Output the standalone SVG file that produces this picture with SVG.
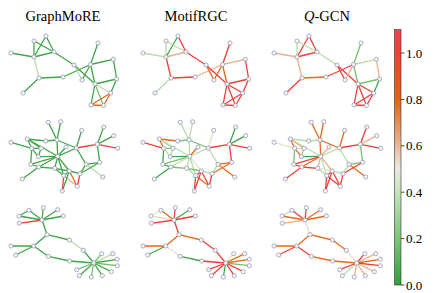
<svg xmlns="http://www.w3.org/2000/svg" xmlns:xlink="http://www.w3.org/1999/xlink" width="436" height="293" viewBox="0 0 436 293">
<style>
.t{font-family:"Liberation Serif","DejaVu Serif",serif;font-size:14.5px;fill:#000;text-anchor:middle}
.tk{font-family:"Liberation Serif","DejaVu Serif",serif;font-size:13px;fill:#000}
.e{fill:none;stroke-width:1.3;stroke-linecap:round}
.nd circle{fill:#f5f5fa;stroke:#8c90aa;stroke-width:.7}
.g{stroke:#3fa54a}.g2{stroke:#78c070}.lg{stroke:#b7dcaa}.bg{stroke:#e4dfcf}.pc{stroke:#eab08a}.or{stroke:#e4691d}.rd{stroke:#ef3e3a}
</style>
<defs>
<linearGradient id="cb" x1="0" y1="0" x2="0" y2="1">
<stop offset="0" stop-color="#f0424c"/><stop offset=".091" stop-color="#ee4038"/><stop offset=".273" stop-color="#e0640e"/><stop offset=".455" stop-color="#e8b89a"/><stop offset=".545" stop-color="#ebe8e2"/><stop offset=".636" stop-color="#c5e3bc"/><stop offset=".818" stop-color="#7dc47a"/><stop offset="1" stop-color="#2e9e3e"/>
</linearGradient>
<path id="a1" d="M46 36L34 57"/><path id="a2" d="M46 36L54 52"/><path id="a3" d="M34 41L34 57"/><path id="a4" d="M34 41L54 52"/><path id="a5" d="M11 53L34 57"/><path id="a6" d="M34 57L54 52"/><path id="a7" d="M34 57L39 78"/><path id="a8" d="M54 52L74 65"/><path id="a9" d="M39 78L63 77"/><path id="a10" d="M39 78L23 93"/><path id="a11" d="M63 77L90.5 64.5"/><path id="a12" d="M98 43L90.5 64.5"/><path id="a13" d="M74 65L95 84"/><path id="a14" d="M74 65L82 80"/><path id="a15" d="M90.5 64.5L82 80"/><path id="a16" d="M90.5 64.5L113.3 59.3"/><path id="a17" d="M90.5 64.5L95 84"/><path id="a18" d="M113.3 59.3L116.7 79"/><path id="a19" d="M95 84L116.7 79"/><path id="a20" d="M116.7 79L110.7 93"/><path id="a21" d="M95 84L110.7 93"/><path id="a22" d="M95 84L91 105"/><path id="a23" d="M95 84L103.5 105.5"/><path id="a24" d="M110.7 93L91 105"/><path id="a25" d="M110.7 93L103.5 105.5"/><path id="a26" d="M91 105L103.5 105.5"/>
<g id="N1" class="nd"><circle cx="46" cy="36" r="2.1"/><circle cx="34" cy="41" r="2.1"/><circle cx="11" cy="53" r="2.1"/><circle cx="34" cy="57" r="2.1"/><circle cx="54" cy="52" r="2.1"/><circle cx="98" cy="43" r="2.1"/><circle cx="74" cy="65" r="2.1"/><circle cx="90.5" cy="64.5" r="2.1"/><circle cx="113.3" cy="59.3" r="2.1"/><circle cx="39" cy="78" r="2.1"/><circle cx="63" cy="77" r="2.1"/><circle cx="82" cy="80" r="2.1"/><circle cx="95" cy="84" r="2.1"/><circle cx="116.7" cy="79" r="2.1"/><circle cx="23" cy="93" r="2.1"/><circle cx="110.7" cy="93" r="2.1"/><circle cx="91" cy="105" r="2.1"/><circle cx="103.5" cy="105.5" r="2.1"/></g>
<path id="b1" d="M48.3 122.3L57 140"/><path id="b2" d="M60.7 121.7L57 140"/><path id="b3" d="M11 142.3L31.7 148.3"/><path id="b4" d="M27.3 139L45.7 141"/><path id="b5" d="M45.7 141L57 140"/><path id="b6" d="M27.3 139L31.7 148.3"/><path id="b7" d="M27.3 139L57.7 156.3"/><path id="b8" d="M27.3 139L41 148.3"/><path id="b9" d="M31.7 148.3L41 148.3"/><path id="b10" d="M31.7 148.3L30.7 164.3"/><path id="b11" d="M41 148.3L38.3 156.7"/><path id="b12" d="M31.7 148.3L38.3 156.7"/><path id="b13" d="M38.3 156.7L57.7 156.3"/><path id="b14" d="M57 140L57.7 156.3"/><path id="b15" d="M57 140L76.3 148"/><path id="b16" d="M66 147L57.7 156.3"/><path id="b17" d="M76.3 148L57.7 156.3"/><path id="b18" d="M81.7 130.3L76.3 148"/><path id="b19" d="M97.3 144.3L76.3 148"/><path id="b20" d="M97.3 144.3L103.7 127"/><path id="b21" d="M97.3 144.3L113.7 135.7"/><path id="b22" d="M97.3 144.3L117.7 148.3"/><path id="b23" d="M97.3 144.3L99.7 162.3"/><path id="b24" d="M76.3 148L86 164.3"/><path id="b25" d="M86 164.3L99.7 162.3"/><path id="b26" d="M86 164.3L102.7 177"/><path id="b27" d="M99.7 162.3L80 173.7"/><path id="b28" d="M86 164.3L80 173.7"/><path id="b29" d="M57.7 156.3L30.7 164.3"/><path id="b30" d="M57.7 156.3L38.7 167"/><path id="b31" d="M57.7 156.3L54.7 168.3"/><path id="b32" d="M57.7 156.3L69.3 171"/><path id="b33" d="M57.7 156.3L63.7 175.7"/><path id="b34" d="M30.7 164.3L38.7 167"/><path id="b35" d="M38.7 167L54.7 168.3"/><path id="b36" d="M38.7 167L22.3 179"/><path id="b37" d="M54.7 168.3L69.3 171"/><path id="b38" d="M69.3 171L80 173.7"/><path id="b39" d="M69.3 171L63.7 175.7"/><path id="b40" d="M69.3 171L77.3 186.3"/><path id="b41" d="M80 173.7L77.3 186.3"/><path id="b42" d="M63.7 175.7L62.3 191"/><path id="b43" d="M63.7 175.7L77.3 186.3"/><path id="b44" d="M69.3 171L62.3 191"/><path id="b45" d="M54.7 168.3L63.7 175.7"/>
<g id="N2" class="nd"><circle cx="48.3" cy="122.3" r="2.1"/><circle cx="60.7" cy="121.7" r="2.1"/><circle cx="11" cy="142.3" r="2.1"/><circle cx="27.3" cy="139" r="2.1"/><circle cx="45.7" cy="141" r="2.1"/><circle cx="57" cy="140" r="2.1"/><circle cx="81.7" cy="130.3" r="2.1"/><circle cx="103.7" cy="127" r="2.1"/><circle cx="113.7" cy="135.7" r="2.1"/><circle cx="117.7" cy="148.3" r="2.1"/><circle cx="97.3" cy="144.3" r="2.1"/><circle cx="76.3" cy="148" r="2.1"/><circle cx="66" cy="147" r="2.1"/><circle cx="31.7" cy="148.3" r="2.1"/><circle cx="41" cy="148.3" r="2.1"/><circle cx="38.3" cy="156.7" r="2.1"/><circle cx="57.7" cy="156.3" r="2.1"/><circle cx="30.7" cy="164.3" r="2.1"/><circle cx="38.7" cy="167" r="2.1"/><circle cx="54.7" cy="168.3" r="2.1"/><circle cx="86" cy="164.3" r="2.1"/><circle cx="99.7" cy="162.3" r="2.1"/><circle cx="69.3" cy="171" r="2.1"/><circle cx="80" cy="173.7" r="2.1"/><circle cx="63.7" cy="175.7" r="2.1"/><circle cx="22.3" cy="179" r="2.1"/><circle cx="102.7" cy="177" r="2.1"/><circle cx="62.3" cy="191" r="2.1"/><circle cx="77.3" cy="186.3" r="2.1"/></g>
<path id="c1" d="M29 210.3L19 216"/><path id="c2" d="M19 216L42 220"/><path id="c3" d="M29 210.3L42 220"/><path id="c4" d="M43.3 207.7L42 220"/><path id="c5" d="M57.7 209.7L42 220"/><path id="c6" d="M63.3 216L42 220"/><path id="c7" d="M42 220L19.3 223.3"/><path id="c8" d="M42 220L47 234.7"/><path id="c9" d="M47 234.7L69.3 240"/><path id="c10" d="M69.3 240L83.3 250.3"/><path id="c11" d="M83.3 250.3L93.7 263"/><path id="c12" d="M47 234.7L33.7 246"/><path id="c13" d="M11 246L33.7 246"/><path id="c14" d="M33.7 246L15.7 255"/><path id="c15" d="M33.7 246L48.3 256.3"/><path id="c16" d="M48.3 256.3L69.7 261"/><path id="c17" d="M69.7 261L93.7 263"/><path id="c18" d="M93.7 263L101.7 253.7"/><path id="c19" d="M93.7 263L112.7 253.7"/><path id="c20" d="M93.7 263L117.3 259.3"/><path id="c21" d="M93.7 263L117.3 265.7"/><path id="c22" d="M93.7 263L111.3 271.7"/><path id="c23" d="M93.7 263L102.3 275.7"/><path id="c24" d="M93.7 263L91.3 277"/><path id="c25" d="M93.7 263L79.3 275.7"/><path id="c26" d="M93.7 263L76.7 269.7"/>
<g id="N3" class="nd"><circle cx="29" cy="210.3" r="2.1"/><circle cx="43.3" cy="207.7" r="2.1"/><circle cx="57.7" cy="209.7" r="2.1"/><circle cx="19" cy="216" r="2.1"/><circle cx="63.3" cy="216" r="2.1"/><circle cx="42" cy="220" r="2.1"/><circle cx="19.3" cy="223.3" r="2.1"/><circle cx="47" cy="234.7" r="2.1"/><circle cx="69.3" cy="240" r="2.1"/><circle cx="11" cy="246" r="2.1"/><circle cx="33.7" cy="246" r="2.1"/><circle cx="15.7" cy="255" r="2.1"/><circle cx="83.3" cy="250.3" r="2.1"/><circle cx="48.3" cy="256.3" r="2.1"/><circle cx="69.7" cy="261" r="2.1"/><circle cx="93.7" cy="263" r="2.1"/><circle cx="101.7" cy="253.7" r="2.1"/><circle cx="112.7" cy="253.7" r="2.1"/><circle cx="117.3" cy="259.3" r="2.1"/><circle cx="117.3" cy="265.7" r="2.1"/><circle cx="111.3" cy="271.7" r="2.1"/><circle cx="102.3" cy="275.7" r="2.1"/><circle cx="91.3" cy="277" r="2.1"/><circle cx="79.3" cy="275.7" r="2.1"/><circle cx="76.7" cy="269.7" r="2.1"/></g>
</defs>
<rect width="436" height="293" fill="#fff"/>
<g id="titles">
<text class="t" x="63" y="21">GraphMoRE</text>
<text class="t" x="196" y="21">MotifRGC</text>
<text class="t" x="327" y="21"><tspan font-style="italic">Q</tspan>-GCN</text>
</g>
<g id="connectors" class="e">
<g id="e11"><use href="#a1" class="g"/><use href="#a2" class="g"/><use href="#a3" class="g"/><use href="#a4" class="g"/><use href="#a5" class="g"/><use href="#a6" class="g"/><use href="#a7" class="lg"/><use href="#a8" class="g"/><use href="#a9" class="g"/><use href="#a10" class="g"/><use href="#a11" class="g"/><use href="#a12" class="g"/><use href="#a13" class="g"/><use href="#a14" class="lg"/><use href="#a15" class="g"/><use href="#a16" class="g"/><use href="#a17" class="g"/><use href="#a18" class="g"/><use href="#a19" class="g"/><use href="#a20" class="g"/><use href="#a21" class="lg"/><use href="#a22" class="g"/><use href="#a23" class="g2"/><use href="#a24" class="or"/><use href="#a25" class="or"/><use href="#a26" class="or"/></g>
<g id="e12" transform="translate(132 0)"><use href="#a1" class="g"/><use href="#a2" class="rd"/><use href="#a3" class="lg"/><use href="#a4" class="lg"/><use href="#a5" class="lg"/><use href="#a6" class="pc"/><use href="#a7" class="rd"/><use href="#a8" class="rd"/><use href="#a9" class="rd"/><use href="#a10" class="lg"/><use href="#a11" class="pc"/><use href="#a12" class="rd"/><use href="#a13" class="rd"/><use href="#a14" class="or"/><use href="#a15" class="or"/><use href="#a16" class="pc"/><use href="#a17" class="or"/><use href="#a18" class="rd"/><use href="#a19" class="rd"/><use href="#a20" class="rd"/><use href="#a21" class="rd"/><use href="#a22" class="rd"/><use href="#a23" class="rd"/><use href="#a24" class="rd"/><use href="#a25" class="rd"/><use href="#a26" class="rd"/></g>
<g id="e13" transform="translate(263 0)"><use href="#a1" class="rd"/><use href="#a2" class="rd"/><use href="#a3" class="lg"/><use href="#a4" class="lg"/><use href="#a5" class="pc"/><use href="#a6" class="rd"/><use href="#a7" class="pc"/><use href="#a8" class="lg"/><use href="#a9" class="or"/><use href="#a10" class="rd"/><use href="#a11" class="rd"/><use href="#a12" class="g2"/><use href="#a13" class="rd"/><use href="#a14" class="rd"/><use href="#a15" class="pc"/><use href="#a16" class="lg"/><use href="#a17" class="g2"/><use href="#a18" class="pc"/><use href="#a19" class="g2"/><use href="#a20" class="g"/><use href="#a21" class="rd"/><use href="#a22" class="rd"/><use href="#a23" class="rd"/><use href="#a24" class="rd"/><use href="#a25" class="rd"/><use href="#a26" class="rd"/></g>
<g id="e21"><use href="#b1" class="g"/><use href="#b2" class="g"/><use href="#b3" class="g"/><use href="#b4" class="g"/><use href="#b5" class="g"/><use href="#b6" class="g"/><use href="#b7" class="g"/><use href="#b8" class="g"/><use href="#b9" class="g"/><use href="#b10" class="g"/><use href="#b11" class="g"/><use href="#b12" class="g"/><use href="#b13" class="g"/><use href="#b14" class="g"/><use href="#b15" class="g"/><use href="#b16" class="g"/><use href="#b17" class="g"/><use href="#b18" class="g"/><use href="#b19" class="rd"/><use href="#b20" class="g"/><use href="#b21" class="g"/><use href="#b22" class="rd"/><use href="#b23" class="g"/><use href="#b24" class="g"/><use href="#b25" class="g"/><use href="#b26" class="lg"/><use href="#b27" class="g"/><use href="#b28" class="g"/><use href="#b29" class="g"/><use href="#b30" class="g"/><use href="#b31" class="g"/><use href="#b32" class="g"/><use href="#b33" class="g"/><use href="#b34" class="g"/><use href="#b35" class="g"/><use href="#b36" class="g"/><use href="#b37" class="g"/><use href="#b38" class="g"/><use href="#b39" class="g"/><use href="#b40" class="or"/><use href="#b41" class="rd"/><use href="#b42" class="rd"/><use href="#b43" class="pc"/><use href="#b44" class="g"/><use href="#b45" class="g"/></g>
<g id="e22" transform="translate(132 0)"><use href="#b1" class="lg"/><use href="#b2" class="lg"/><use href="#b3" class="rd"/><use href="#b4" class="or"/><use href="#b5" class="g2"/><use href="#b6" class="or"/><use href="#b7" class="lg"/><use href="#b8" class="lg"/><use href="#b9" class="g2"/><use href="#b10" class="g"/><use href="#b11" class="lg"/><use href="#b12" class="lg"/><use href="#b13" class="g"/><use href="#b14" class="lg"/><use href="#b15" class="g2"/><use href="#b16" class="or"/><use href="#b17" class="lg"/><use href="#b18" class="bg"/><use href="#b19" class="rd"/><use href="#b20" class="g"/><use href="#b21" class="g"/><use href="#b22" class="rd"/><use href="#b23" class="rd"/><use href="#b24" class="lg"/><use href="#b25" class="or"/><use href="#b26" class="or"/><use href="#b27" class="or"/><use href="#b28" class="lg"/><use href="#b29" class="g2"/><use href="#b30" class="lg"/><use href="#b31" class="lg"/><use href="#b32" class="bg"/><use href="#b33" class="lg"/><use href="#b34" class="g"/><use href="#b35" class="g2"/><use href="#b36" class="g"/><use href="#b37" class="g2"/><use href="#b38" class="lg"/><use href="#b39" class="rd"/><use href="#b40" class="rd"/><use href="#b41" class="rd"/><use href="#b42" class="rd"/><use href="#b43" class="or"/><use href="#b44" class="rd"/><use href="#b45" class="lg"/></g>
<g id="e23" transform="translate(263 0)"><use href="#b1" class="or"/><use href="#b2" class="or"/><use href="#b3" class="bg"/><use href="#b4" class="lg"/><use href="#b5" class="lg"/><use href="#b6" class="or"/><use href="#b7" class="lg"/><use href="#b8" class="pc"/><use href="#b9" class="lg"/><use href="#b10" class="g2"/><use href="#b11" class="pc"/><use href="#b12" class="or"/><use href="#b13" class="g"/><use href="#b14" class="or"/><use href="#b15" class="or"/><use href="#b16" class="pc"/><use href="#b17" class="lg"/><use href="#b18" class="or"/><use href="#b19" class="rd"/><use href="#b20" class="rd"/><use href="#b21" class="pc"/><use href="#b22" class="rd"/><use href="#b23" class="g2"/><use href="#b24" class="lg"/><use href="#b25" class="g2"/><use href="#b26" class="or"/><use href="#b27" class="rd"/><use href="#b28" class="lg"/><use href="#b29" class="rd"/><use href="#b30" class="or"/><use href="#b31" class="pc"/><use href="#b32" class="pc"/><use href="#b33" class="lg"/><use href="#b34" class="rd"/><use href="#b35" class="rd"/><use href="#b36" class="rd"/><use href="#b37" class="bg"/><use href="#b38" class="lg"/><use href="#b39" class="rd"/><use href="#b40" class="rd"/><use href="#b41" class="rd"/><use href="#b42" class="rd"/><use href="#b43" class="rd"/><use href="#b44" class="rd"/><use href="#b45" class="lg"/></g>
<g id="e31"><use href="#c1" class="g"/><use href="#c2" class="g"/><use href="#c3" class="g"/><use href="#c4" class="g"/><use href="#c5" class="g"/><use href="#c6" class="g"/><use href="#c7" class="rd"/><use href="#c8" class="g"/><use href="#c9" class="g"/><use href="#c10" class="lg"/><use href="#c11" class="g"/><use href="#c12" class="g"/><use href="#c13" class="g"/><use href="#c14" class="g"/><use href="#c15" class="g"/><use href="#c16" class="g"/><use href="#c17" class="g"/><use href="#c18" class="g2"/><use href="#c19" class="lg"/><use href="#c20" class="g"/><use href="#c21" class="g2"/><use href="#c22" class="g"/><use href="#c23" class="g"/><use href="#c24" class="g2"/><use href="#c25" class="g"/><use href="#c26" class="g2"/></g>
<g id="e32" transform="translate(132 0)"><use href="#c1" class="bg"/><use href="#c2" class="bg"/><use href="#c3" class="or"/><use href="#c4" class="rd"/><use href="#c5" class="g"/><use href="#c6" class="rd"/><use href="#c7" class="rd"/><use href="#c8" class="rd"/><use href="#c9" class="or"/><use href="#c10" class="rd"/><use href="#c11" class="rd"/><use href="#c12" class="or"/><use href="#c13" class="or"/><use href="#c14" class="g"/><use href="#c15" class="bg"/><use href="#c16" class="g"/><use href="#c17" class="rd"/><use href="#c18" class="bg"/><use href="#c19" class="or"/><use href="#c20" class="or"/><use href="#c21" class="g2"/><use href="#c22" class="rd"/><use href="#c23" class="rd"/><use href="#c24" class="g"/><use href="#c25" class="rd"/><use href="#c26" class="rd"/></g>
<g id="e33" transform="translate(263 0)"><use href="#c1" class="lg"/><use href="#c2" class="or"/><use href="#c3" class="rd"/><use href="#c4" class="rd"/><use href="#c5" class="or"/><use href="#c6" class="or"/><use href="#c7" class="pc"/><use href="#c8" class="bg"/><use href="#c9" class="or"/><use href="#c10" class="or"/><use href="#c11" class="bg"/><use href="#c12" class="or"/><use href="#c13" class="or"/><use href="#c14" class="rd"/><use href="#c15" class="rd"/><use href="#c16" class="or"/><use href="#c17" class="or"/><use href="#c18" class="rd"/><use href="#c19" class="pc"/><use href="#c20" class="or"/><use href="#c21" class="rd"/><use href="#c22" class="pc"/><use href="#c23" class="pc"/><use href="#c24" class="pc"/><use href="#c25" class="lg"/><use href="#c26" class="rd"/></g>
</g>
<g id="nodes">
<use id="n11" href="#N1"/><use id="n12" href="#N1" x="132"/><use id="n13" href="#N1" x="263"/>
<use id="n21" href="#N2"/><use id="n22" href="#N2" x="132"/><use id="n23" href="#N2" x="263"/>
<use id="n31" href="#N3"/><use id="n32" href="#N3" x="132"/><use id="n33" href="#N3" x="263"/>
</g>
<g id="colorbar">
<rect x="394.5" y="29.5" width="6.5" height="255.5" fill="url(#cb)" stroke="#333" stroke-width=".6"/>
<g stroke="#000" stroke-width=".7"><path d="M401 53h3.5M401 99.4h3.5M401 145.8h3.5M401 192.2h3.5M401 238.6h3.5M401 285h3.5"/></g>
<text class="tk" x="406" y="57.5">1.0</text>
<text class="tk" x="406" y="103.9">0.8</text>
<text class="tk" x="406" y="150.3">0.6</text>
<text class="tk" x="406" y="196.7">0.4</text>
<text class="tk" x="406" y="243.1">0.2</text>
<text class="tk" x="406" y="289.5">0.0</text>
</g>
</svg>
